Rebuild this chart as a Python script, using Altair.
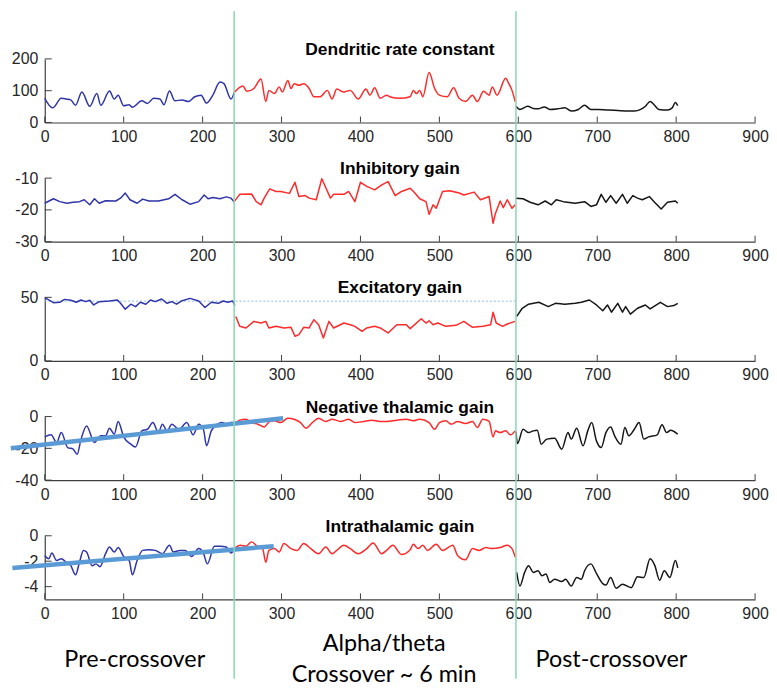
import altair as alt
import pandas as pd

BLUE = "#2F35A8"
RED = "#FF2A2A"
BLACK = "#161616"
GREEN = "#86D8B0"
REG = "#5B9BD5"
DASH = "#8DBBE6"
AX = "#404040"

X_TICKS = [0, 100, 200, 300, 400, 500, 600, 700, 800, 900]
CROSS_X = [240, 597]

# ---------------- Dendritic rate constant ----------------
dend_pre_x = [0, 10, 21, 27, 33, 39, 47, 57, 66, 71, 82, 88, 93, 100, 107, 111, 123, 130, 138, 146, 151, 158, 165, 174, 182, 190, 198, 205, 213, 222, 227, 236, 240]
dend_pre_y = [76, 46, 76, 74, 71, 54, 96, 51, 91, 54, 99, 74, 86, 53, 56, 48, 68, 60, 76, 74, 56, 99, 68, 71, 66, 81, 86, 61, 86, 127, 122, 74, 94]
dend_alpha_x = [240, 251, 256, 265, 274, 280, 284, 291, 297, 301, 308, 312, 316, 322, 328, 335, 341, 349, 358, 364, 370, 379, 387, 397, 407, 412, 418, 425, 433, 437, 450, 463, 467, 471, 475, 479, 487, 494, 500, 510, 518, 525, 533, 542, 548, 556, 563, 567, 573, 584, 588, 592, 596]
dend_alpha_y = [94, 115, 98, 107, 137, 66, 101, 91, 112, 96, 132, 107, 122, 117, 122, 107, 81, 81, 101, 74, 105, 96, 101, 74, 105, 86, 109, 76, 86, 81, 76, 81, 101, 91, 101, 81, 157, 107, 86, 81, 109, 76, 66, 86, 66, 98, 86, 112, 86, 139, 122, 101, 66]
dend_post_x = [597, 602, 612, 619, 625, 633, 640, 650, 659, 667, 676, 684, 692, 701, 713, 730, 747, 755, 761, 767, 772, 778, 789, 795, 799, 802]
dend_post_y = [51, 41, 51, 44, 43, 49, 41, 43, 46, 36, 41, 54, 41, 41, 39, 37, 36, 41, 51, 66, 56, 41, 39, 46, 63, 53]

# ---------------- Inhibitory gain ----------------
inh_pre_x = [0, 11, 19, 28, 36, 44, 50, 57, 63, 69, 77, 90, 96, 102, 108, 117, 124, 132, 144, 157, 165, 174, 184, 195, 202, 207, 213, 222, 230, 236, 240]
inh_pre_y = [-17.9, -16.5, -17.4, -17.9, -17.6, -17.4, -16.8, -18.4, -16.5, -17.9, -17.1, -17.2, -16.3, -14.7, -16.8, -17.9, -16.6, -17.2, -17.2, -16.5, -15.1, -16.8, -18.2, -17.4, -15.3, -16.5, -16.1, -16.5, -15.9, -16.3, -17.4]
inh_alpha_x = [240, 247, 262, 268, 274, 278, 285, 293, 299, 310, 317, 322, 330, 335, 344, 351, 362, 366, 379, 385, 393, 400, 408, 418, 427, 435, 444, 452, 463, 469, 475, 483, 487, 492, 496, 504, 513, 525, 531, 544, 552, 563, 568, 571, 577, 581, 586, 592, 596]
inh_alpha_y = [-17.4, -15.1, -15.0, -17.4, -18.4, -16.3, -13.4, -14.2, -14.2, -14.8, -11.3, -15.8, -15.5, -16.3, -16.8, -10.2, -16.3, -15.1, -15.1, -14.2, -17.4, -11.3, -12.6, -13.7, -12.1, -11.1, -15.5, -14.2, -13.2, -14.7, -16.5, -17.4, -21.4, -18.4, -19.5, -14.2, -14.0, -14.7, -15.3, -14.4, -16.8, -15.8, -24.2, -21.1, -17.2, -19.3, -16.8, -19.5, -18.4]
inh_post_x = [597, 606, 615, 625, 634, 642, 648, 657, 672, 684, 692, 699, 705, 711, 717, 724, 732, 738, 745, 751, 757, 766, 772, 781, 789, 799, 802]
inh_post_y = [-16.3, -16.5, -17.6, -18.4, -17.2, -18.4, -16.8, -17.4, -17.9, -17.4, -18.9, -18.4, -15.1, -17.6, -15.5, -17.9, -15.1, -17.9, -15.5, -16.3, -16.8, -15.8, -17.4, -19.7, -17.6, -17.2, -17.9]

# ---------------- Excitatory gain ----------------
exc_pre_x = [0, 11, 19, 25, 33, 40, 46, 52, 57, 62, 69, 82, 92, 96, 102, 109, 115, 121, 128, 134, 140, 148, 155, 161, 167, 173, 184, 195, 203, 211, 220, 226, 232, 238, 241]
exc_pre_y = [49.7, 45.8, 46.1, 48.4, 47.7, 46.1, 47.9, 46.6, 47.7, 44.0, 46.6, 47.1, 47.9, 45.3, 40.7, 44.6, 42.7, 46.1, 44.6, 47.9, 46.6, 48.7, 45.3, 46.6, 44.6, 47.1, 49.2, 47.1, 42.0, 46.1, 45.3, 47.1, 46.1, 47.1, 43.5]
exc_alpha_x = [242, 247, 255, 265, 274, 280, 284, 293, 303, 312, 317, 322, 328, 335, 341, 347, 353, 360, 366, 379, 387, 393, 402, 408, 418, 425, 435, 446, 458, 463, 477, 483, 487, 492, 498, 508, 521, 531, 542, 555, 565, 568, 572, 580, 586, 596]
exc_alpha_y = [35.0, 27.2, 25.9, 31.1, 29.8, 31.1, 25.9, 27.2, 25.9, 26.4, 19.4, 20.7, 26.4, 25.9, 32.4, 28.5, 18.1, 31.1, 25.9, 29.8, 28.5, 27.2, 23.3, 25.9, 27.2, 25.9, 22.0, 28.5, 28.5, 25.4, 33.2, 29.8, 31.6, 28.5, 29.8, 27.2, 28.0, 31.1, 26.4, 27.2, 28.5, 38.3, 29.8, 27.2, 29.0, 31.1]
exc_post_x = [598, 605, 613, 626, 638, 647, 659, 672, 680, 690, 699, 707, 713, 718, 726, 732, 736, 742, 751, 761, 767, 780, 789, 797, 802]
exc_post_y = [35.0, 41.4, 44.6, 46.1, 42.7, 45.3, 44.6, 45.3, 46.1, 47.9, 44.0, 39.4, 44.0, 38.3, 45.3, 38.3, 42.7, 36.8, 41.4, 44.0, 40.9, 46.1, 42.7, 43.5, 45.3]
exc_ref_x = [0, 597]
exc_ref_y = [47, 47]

# ---------------- Negative thalamic gain ----------------
neg_pre_x = [0, 8, 15, 21, 29, 36, 41, 46, 53, 63, 71, 77, 82, 88, 93, 100, 109, 115, 123, 130, 137, 144, 149, 155, 161, 170, 180, 188, 195, 201, 205, 211, 220, 225, 230, 236, 240]
neg_pre_y = [-12.8, -11.5, -16.3, -10.1, -19.5, -20.5, -23.7, -14.2, -5.9, -16.3, -12.1, -12.1, -7.3, -11.1, -3.1, -12.8, -17.4, -19.1, -9.0, -8.0, -3.8, -10.1, -4.8, -9.0, -4.8, -8.0, -3.8, -11.5, -4.8, -8.0, -18.4, -9.0, -4.4, -3.8, -4.8, -3.8, -4.4]
neg_alpha_x = [240, 247, 255, 262, 270, 278, 285, 291, 299, 308, 316, 324, 331, 339, 347, 356, 364, 375, 385, 393, 404, 414, 425, 433, 446, 458, 467, 475, 487, 494, 500, 508, 515, 523, 533, 542, 548, 555, 563, 568, 571, 577, 584, 590, 596]
neg_alpha_y = [-4.4, -2.3, -1.7, -3.8, -4.8, -6.5, -3.1, -2.7, -3.8, -1.0, -1.7, -3.8, -7.3, -3.8, -1.0, -3.1, -1.7, -3.1, -1.7, -3.8, -3.1, -2.3, -3.1, -3.1, -2.3, -1.7, -2.7, -1.7, -3.8, -8.0, -3.8, -2.7, -4.8, -3.1, -4.4, -3.1, -6.9, -1.7, -3.1, -12.8, -9.0, -10.1, -9.0, -11.5, -9.0]
neg_post_x = [597, 599, 606, 613, 619, 624, 629, 636, 646, 655, 663, 667, 674, 682, 688, 693, 699, 705, 711, 717, 722, 730, 735, 740, 747, 753, 759, 765, 776, 782, 788, 793, 802]
neg_post_y = [-9.5, -17.0, -8.0, -10.1, -9.0, -8.6, -17.4, -14.2, -13.6, -20.5, -10.1, -14.2, -7.3, -18.4, -9.0, -3.8, -15.3, -19.5, -10.1, -6.5, -12.1, -17.4, -6.9, -12.1, -8.0, -3.8, -14.2, -12.8, -11.5, -5.2, -10.1, -8.6, -11.1]
neg_fit_x = [-43, 302]
neg_fit_y = [-19.9, -1.06]

# ---------------- Intrathalamic gain ----------------
intra_pre_x = [0, 5, 9, 15, 21, 27, 33, 39, 44, 49, 53, 60, 65, 70, 77, 82, 88, 93, 100, 107, 111, 117, 124, 132, 140, 149, 158, 163, 171, 178, 186, 195, 201, 206, 215, 222, 230, 236, 240]
intra_pre_y = [-1.55, -1.81, -1.36, -1.95, -1.81, -2.08, -2.35, -3.07, -2.08, -1.15, -1.28, -2.35, -2.21, -2.43, -1.41, -0.88, -1.28, -0.93, -1.63, -1.95, -3.07, -1.95, -1.15, -1.09, -1.15, -1.41, -0.75, -1.28, -1.15, -1.15, -1.63, -1.01, -1.36, -2.21, -0.83, -0.83, -0.88, -1.36, -1.01]
intra_alpha_x = [240, 248, 255, 262, 270, 276, 280, 284, 291, 297, 303, 312, 320, 328, 337, 347, 356, 364, 370, 379, 387, 397, 408, 416, 427, 433, 441, 452, 463, 467, 473, 479, 485, 496, 504, 517, 523, 533, 542, 550, 559, 567, 577, 586, 592, 596]
intra_alpha_y = [-1.01, -0.75, -0.83, -0.48, -0.88, -1.01, -2.08, -1.15, -1.01, -1.28, -0.61, -1.01, -1.15, -0.61, -1.01, -1.41, -0.88, -1.41, -1.15, -0.75, -1.01, -1.41, -1.01, -0.56, -1.41, -1.15, -0.75, -1.47, -1.09, -0.67, -1.01, -0.75, -1.15, -0.67, -1.15, -0.75, -1.55, -1.89, -1.01, -1.15, -0.93, -1.01, -0.93, -0.75, -1.01, -1.68]
intra_post_x = [598, 602, 608, 613, 619, 625, 630, 635, 640, 646, 655, 660, 667, 674, 680, 684, 692, 699, 707, 711, 717, 724, 732, 743, 751, 759, 767, 773, 779, 785, 792, 799, 802]
intra_post_y = [-2.88, -3.95, -2.88, -2.35, -2.88, -2.75, -3.15, -3.01, -3.68, -3.41, -3.60, -3.41, -3.95, -3.28, -3.41, -2.75, -2.21, -2.96, -3.76, -3.87, -3.28, -4.13, -3.81, -4.08, -3.23, -3.28, -1.81, -2.35, -3.49, -2.75, -3.28, -1.95, -2.53]
intra_fit_x = [-41, 290]
intra_fit_y = [-2.54, -0.82]

BOTTOM_SIDE_X = [114, 718]
BOTTOM_SIDE_T = ["Pre-crossover", "Post-crossover"]
BOTTOM_MID_X = [430]

W, H = 715, 64
LABEL_FONT = "Lato"
LABEL_SIZE = 23.5


def seg(xs, ys, phase):
    return pd.DataFrame({"x": xs, "y": ys, "phase": phase})


def make_panel(title, pre, alpha, post, ydom, yticks, top, bottom, interp="linear", back=None, front=None, more=None):
    df = pd.concat([seg(*pre, "pre"), seg(*alpha, "alpha"), seg(*post, "post")], ignore_index=True)
    xs = alt.X("x:Q", scale=alt.Scale(domain=[0, 900], nice=False, zero=False),
               axis=alt.Axis(values=X_TICKS, ticks=False, tickSize=0, labelPadding=6, title=None,
                             grid=False, labelFlush=False, labelOverlap=False,
                             labelExpr="'' + datum.value"))
    ys = alt.Y("y:Q", scale=alt.Scale(domain=ydom, nice=False, zero=False),
               axis=alt.Axis(values=yticks, ticks=False, tickSize=0, labelPadding=7, title=None,
                             grid=False, labelOverlap=False, labelExpr="'' + datum.value"))
    layers = []
    if back is not None:
        bx, by = back
        layers.append(alt.Chart(pd.DataFrame({"x": bx, "y": by})).mark_line(
            color=DASH, strokeWidth=1, strokeDash=[2, 2], strokeJoin="round").encode(x=xs, y=ys))
    layers.append(alt.Chart(df).mark_line(strokeWidth=1.5, interpolate=interp, strokeJoin="round").encode(
        x=xs, y=ys,
        color=alt.Color("phase:N", scale=alt.Scale(domain=["pre", "alpha", "post"], range=[BLUE, RED, BLACK]), legend=None),
        order="x:Q"))
    layers.append(alt.Chart(pd.DataFrame({"x": X_TICKS})).mark_rule(color=AX, strokeWidth=1).encode(
        x=xs, y=alt.value(H), y2=alt.value(H - 6)))
    layers.append(alt.Chart(pd.DataFrame({"y": yticks})).mark_rule(color=AX, strokeWidth=1).encode(
        y=ys, x=alt.value(0), x2=alt.value(7)))
    if front is not None:
        fx, fy = front
        layers.append(alt.Chart(pd.DataFrame({"x": fx, "y": fy})).mark_line(
            color=REG, strokeWidth=4.5, strokeCap="butt", strokeJoin="round").encode(x=xs, y=ys))
    layers.append(alt.Chart(pd.DataFrame({"x": CROSS_X})).mark_rule(color=GREEN, strokeWidth=1.5).encode(
        x=xs, y=alt.value(top), y2=alt.value(bottom)))
    layers.append(alt.Chart(pd.DataFrame({"x": [450], "t": [title]})).mark_text(
        font="Liberation Sans", fontSize=17.5, fontWeight="bold", color="#000000", baseline="alphabetic").encode(
        x=xs, y=alt.value(-4), text="t:N"))
    if more:
        for m in more:
            layers.append(m(xs))
    return alt.layer(*layers).properties(width=W, height=H)


def bottom_text(xvals, texts, yoff):
    def f(xs):
        return alt.Chart(pd.DataFrame({"x": xvals, "t": texts})).mark_text(
            font=LABEL_FONT, fontSize=LABEL_SIZE, color="#000000", baseline="middle").encode(
            x=xs, y=alt.value(yoff), text="t:N")
    return f


p1 = make_panel("Dendritic rate constant", (dend_pre_x, dend_pre_y), (dend_alpha_x, dend_alpha_y),
                (dend_post_x, dend_post_y), [0, 200], [0, 100, 200], -48, H + 28, interp="monotone")
p2 = make_panel("Inhibitory gain", (inh_pre_x, inh_pre_y), (inh_alpha_x, inh_alpha_y),
                (inh_post_x, inh_post_y), [-30, -10], [-30, -20, -10], -28, H + 28)
p3 = make_panel("Excitatory gain", (exc_pre_x, exc_pre_y), (exc_alpha_x, exc_alpha_y),
                (exc_post_x, exc_post_y), [0, 50], [0, 50], -28, H + 28, back=(exc_ref_x, exc_ref_y))
p4 = make_panel("Negative thalamic gain", (neg_pre_x, neg_pre_y), (neg_alpha_x, neg_alpha_y),
                (neg_post_x, neg_post_y), [-40, 0], [-40, -20, 0], -28, H + 28, interp="monotone",
                front=(neg_fit_x, neg_fit_y))
p5 = make_panel("Intrathalamic gain", (intra_pre_x, intra_pre_y), (intra_alpha_x, intra_alpha_y),
                (intra_post_x, intra_post_y), [-5, 0], [-4, -2, 0], -28, 144, interp="monotone",
                front=(intra_fit_x, intra_fit_y),
                more=[bottom_text(BOTTOM_SIDE_X, BOTTOM_SIDE_T, 125),
                      bottom_text(BOTTOM_MID_X, ["Alpha/theta"], 109),
                      bottom_text(BOTTOM_MID_X, ["Crossover ~ 6 min"], 140)])

chart = alt.vconcat(p1, p2, p3, p4, p5, spacing=56, bounds="flush").properties(padding=0).configure_view(
    stroke=None).configure_axis(
    domainColor=AX, domainWidth=1.2, labelColor="#262626", labelFont="Liberation Sans", labelFontSize=16)

chart.save("out.html", embed_options={"renderer": "svg", "actions": False})
